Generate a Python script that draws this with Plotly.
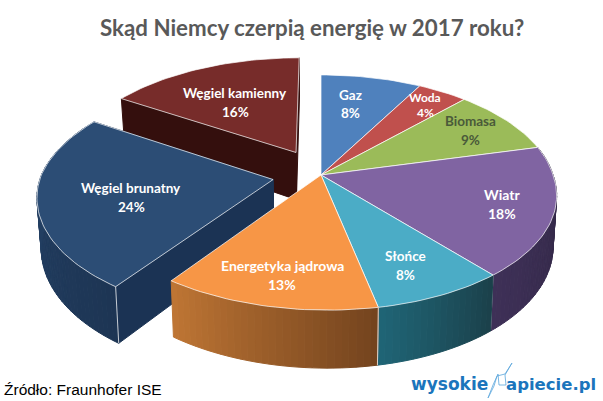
import numpy as np
import plotly.graph_objects as go

# ---- data ----
categories = ["Gaz", "Woda", "Biomasa", "Wiatr", "Słońce", "Energetyka jądrowa", "Węgiel brunatny", "Węgiel kamienny"]
values = [8, 4, 9, 18, 8, 13, 24, 16]
explode = [0, 0, 0, 0, 0, 0, 0.21, 0.23]

top_colors = ["#4F81BD", "#C0504D", "#9BBB59", "#8064A2", "#4BACC6", "#F79646", "#2C4D75", "#772C2A"]
rim_left = ["#3A5F8C", "#8E3B39", "#738A42", "#3E3057", "#1F6475", "#BE7534", "#27466C", "#3A100E"]
rim_right = ["#2A4566", "#682B2A", "#55662F", "#2E2540", "#1B414B", "#74441E", "#1D3554", "#2E0E0C"]
radial_colors = [None, None, None, None, None, None, "#1B3354", "#340F0D"]
label_colors = ["white", "white", "#4A5A3A", "white", "white", "white", "white", "white"]
label_x = [350, 425, 470, 502, 405, 282, 131, 235]
label_y = [104, 105, 130, 204, 265, 275, 197, 102]
label_gap = [18, 15, 19, 19, 19, 19, 19, 19]
label_size = [13.5, 12, 13.5, 14, 13.5, 14, 13.5, 13.5]
draw_order = [7, 0, 1, 2, 3, 4, 6, 5]
has_rim = [False, False, False, True, True, True, True, False]
corner_edges = [3, 4, 5, 6]

title = "Skąd Niemcy czerpią energię w 2017 roku?"
source = "Źródło: Fraunhofer ISE"

# ---- projection of the disc ----
CX, CY, A, B, K = 321.0, 175.0, 232.0, 115.0, 0.149
SHEAR = 6.5
BOTTOM_SCALE, D0, D1 = 0.985, 49.0, 9.0


def top(X, Y):
    d = 1 + K * Y
    return CX + A * X / d + SHEAR * np.maximum(-np.asarray(Y), 0), CY - B * Y / d


def bottom(X, Y):
    x, y = top(X, Y)
    return CX + (x - CX) * BOTTOM_SCALE, y + D0 - D1 * Y


def mix(c1, c2, t):
    a = [int(c1[i:i + 2], 16) for i in (1, 3, 5)]
    b = [int(c2[i:i + 2], 16) for i in (1, 3, 5)]
    return "rgb(%d,%d,%d)" % tuple(round(p + (q - p) * t) for p, q in zip(a, b))


fig = go.Figure()


def poly(xs, ys, fill, line=None, width=1.0):
    fig.add_trace(go.Scatter(
        x=list(xs) + [xs[0]], y=list(ys) + [ys[0]], mode="lines", fill="toself", fillcolor=fill,
        line=dict(color=line or fill, width=width), hoverinfo="skip", showlegend=False))


def seg(xs, ys, color="rgba(255,255,255,0.75)", width=1.0):
    fig.add_trace(go.Scatter(x=xs, y=ys, mode="lines", line=dict(color=color, width=width),
                             hoverinfo="skip", showlegend=False))


cum = np.cumsum([0] + values) / sum(values) * 2 * np.pi
for i in draw_order:
    t0, t1 = cum[i], cum[i + 1]
    mid = (t0 + t1) / 2
    ox, oy = explode[i] * np.sin(mid), explode[i] * np.cos(mid)
    th = np.linspace(t0, t1, max(6, int(np.degrees(t1 - t0) / 1.5)))
    PX, PY = ox + np.sin(th), oy + np.cos(th)

    # inner faces (exploded slices only)
    if radial_colors[i]:
        for ex, ey in ((PX[-1], PY[-1]), (PX[0], PY[0])):
            a = top(ox, oy); b = top(ex, ey); c = bottom(ex, ey); d = bottom(ox, oy)
            poly([a[0], b[0], c[0], d[0]], [a[1], b[1], c[1], d[1]], radial_colors[i])

    # outer rim with a horizontal shading (the angle runs from right to left here)
    if has_rim[i]:
        n = len(th)
        for j in range(n - 1):
            X, Y = PX[j:j + 2], PY[j:j + 2]
            tx, ty = top(X, Y); bx, by = bottom(X, Y)
            tt = (n - 2 - j) / max(n - 2, 1)
            col = mix(rim_left[i], rim_right[i], tt)
            poly([tx[0], tx[1], bx[1], bx[0]], [ty[0], ty[1], by[1], by[0]], col)

    # top face
    ax, ay = top(ox, oy)
    tx, ty = top(PX, PY)
    poly([float(ax)] + list(tx), [ay] + list(ty), top_colors[i], "rgba(255,255,255,0.7)", 1.0)

    # vertical edges of the block
    if i in corner_edges:
        ex, ey = PX[-1], PY[-1]
        p, q = top(ex, ey), bottom(ex, ey)
        if i != 5 and i != 6:
            seg([float(p[0]), float(q[0])], [p[1], q[1]])
        if i == 6:
            p, q = top(PX[0], PY[0]), bottom(PX[0], PY[0])
            seg([float(p[0]), float(q[0])], [p[1], q[1]])

# the edge between Słońce and the nuclear slice
p, q = top(np.sin(cum[5]), np.cos(cum[5])), bottom(np.sin(cum[5]), np.cos(cum[5]))
seg([float(p[0]), float(q[0])], [p[1], q[1]])

ann = []
for i, c in enumerate(categories):
    for txt, dy in ((c, -label_gap[i] / 2), (f"{values[i]}%", label_gap[i] / 2)):
        ann.append(dict(x=label_x[i], y=label_y[i] + dy, text=txt, showarrow=False, xref="x", yref="y",
                        font=dict(family="Lato", size=label_size[i], color=label_colors[i], weight="bold")))

ann.append(dict(x=312, y=27, text=title, showarrow=False, xref="x", yref="y",
                font=dict(family="Lato", size=22.3, color="#595959", weight="bold")))
ann.append(dict(x=2, y=389, text=source, showarrow=False, xref="x", yref="y", xanchor="left",
                font=dict(family="Liberation Sans", size=15.5, color="black")))
ann.append(dict(x=409, y=384, text="wysokie", showarrow=False, xref="x", yref="y", xanchor="left",
                font=dict(family="DejaVu Sans", size=17, color="#1B75BC", weight="bold")))
ann.append(dict(x=504, y=384, text="apiecie.pl", showarrow=False, xref="x", yref="y", xanchor="left",
                font=dict(family="DejaVu Sans", size=16.5, color="#1B75BC", weight="bold")))

fig.update_layout(
    width=603, height=401, margin=dict(l=0, r=0, t=0, b=0),
    paper_bgcolor="white", plot_bgcolor="white", showlegend=False,
    xaxis=dict(range=[0, 603], visible=False, fixedrange=True),
    yaxis=dict(range=[401, 0], visible=False, fixedrange=True),
    annotations=ann,
    shapes=[dict(type="path", xref="x", yref="y", line=dict(color="#5BA6DC", width=0.8),
                 path="M 512 363 L 505 375 L 506 385 L 499 385 L 498 374 L 493 385 L 488 398 L 494 386 L 497 376 L 505 374 Z")],
)
fig.write_html("out.html", config={"displayModeBar": False},
               post_script="document.body.style.margin='0';document.body.style.overflow='hidden';")
